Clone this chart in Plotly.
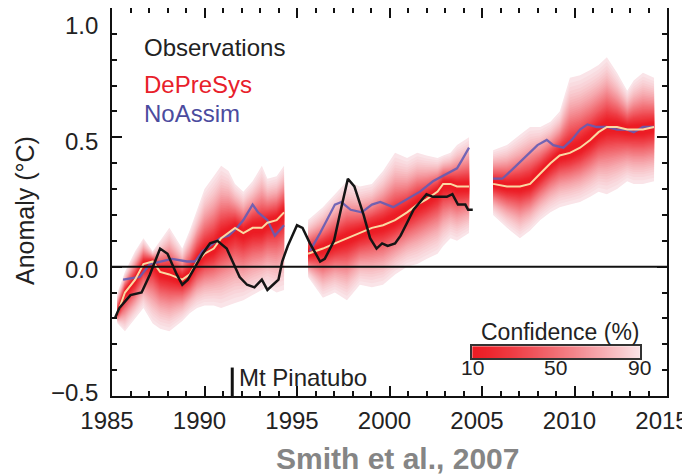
import plotly.graph_objects as go
from statistics import NormalDist

# ------------------------------------------------------------------ data
OBS_YEARS = [1985.15, 1985.4, 1986.0, 1986.6, 1987.05, 1987.6, 1988.0, 1988.5, 1988.8, 1989.1,
             1989.5, 1989.9, 1990.3, 1990.7, 1991.2, 1991.5, 1991.9, 1992.3, 1992.7, 1993.1,
             1993.4, 1993.7, 1994.0, 1994.2, 1994.5, 1995.0, 1995.3, 1995.7, 1996.25, 1996.5,
             1997.0, 1997.4, 1997.75, 1998.1, 1998.6, 1998.95, 1999.3, 1999.6, 1999.9, 2000.3,
             2000.6, 2000.95, 2001.3, 2001.65, 2002.0, 2002.35, 2002.7, 2003.1, 2003.4, 2003.7,
             2004.1, 2004.25, 2004.5]
OBS_VALUES = [-0.20, -0.16, -0.11, -0.10, -0.03, 0.07, 0.05, -0.03, -0.07, -0.05,
              0.00, 0.05, 0.09, 0.10, 0.07, 0.02, -0.04, -0.07, -0.08, -0.05,
              -0.09, -0.07, -0.05, 0.02, 0.08, 0.16, 0.15, 0.09, 0.02, 0.03,
              0.10, 0.23, 0.34, 0.31, 0.20, 0.11, 0.07, 0.09, 0.08, 0.09,
              0.12, 0.17, 0.22, 0.25, 0.28, 0.27, 0.27, 0.27, 0.28, 0.24,
              0.24, 0.22, 0.22]

# DePreSys hindcasts: ensemble mean and 90% confidence bounds
SEG1_YEARS = [1985.3, 1985.7, 1986.25, 1986.7, 1987.2, 1987.6, 1988.1, 1988.8, 1989.2, 1989.6,
              1990.0, 1990.5, 1990.9, 1991.3, 1991.65, 1992.1, 1992.6, 1993.1, 1993.4, 1993.9, 1994.3]
SEG1_MEAN = [-0.18, -0.10, -0.05, 0.01, 0.02, -0.02, -0.03, -0.05, -0.03, 0.02,
             0.05, 0.07, 0.11, 0.13, 0.15, 0.13, 0.15, 0.15, 0.17, 0.18, 0.21]
SEG1_UPPER90 = [-0.10, -0.02, 0.06, 0.11, 0.06, 0.10, 0.15, 0.07, 0.14, 0.22,
                0.30, 0.35, 0.39, 0.37, 0.32, 0.29, 0.33, 0.39, 0.34, 0.35, 0.39]
SEG1_LOWER90 = [-0.22, -0.25, -0.20, -0.16, -0.22, -0.24, -0.25, -0.21, -0.18, -0.16,
                -0.15, -0.15, -0.16, -0.15, -0.14, -0.13, -0.11, -0.09, -0.08, -0.10, -0.09]

SEG2_YEARS = [1995.6, 1996.4, 1997.05, 1997.7, 1998.4, 1999.05, 1999.65, 2000.3, 2000.95, 2001.5,
              2002.0, 2002.6, 2002.9, 2003.3, 2003.65, 2004.3]
SEG2_MEAN = [0.05, 0.07, 0.09, 0.11, 0.13, 0.15, 0.16, 0.18, 0.21, 0.24,
             0.26, 0.29, 0.32, 0.32, 0.31, 0.31]
SEG2_UPPER90 = [0.18, 0.23, 0.28, 0.33, 0.31, 0.32, 0.37, 0.44, 0.42, 0.44,
                0.43, 0.42, 0.43, 0.44, 0.47, 0.50]
SEG2_LOWER90 = [-0.04, -0.12, -0.10, -0.13, -0.07, -0.08, -0.07, -0.03, 0.00, 0.01,
                0.03, 0.05, 0.08, 0.11, 0.10, 0.13]

SEG3_YEARS = [2005.6, 2006.35, 2007.05, 2007.6, 2008.15, 2008.7, 2009.2, 2009.75, 2010.3, 2010.85,
              2011.3, 2011.75, 2012.3, 2012.85, 2013.2, 2013.7, 2014.3]
SEG3_MEAN = [0.32, 0.31, 0.31, 0.32, 0.36, 0.40, 0.43, 0.44, 0.46, 0.49,
             0.52, 0.54, 0.54, 0.53, 0.53, 0.53, 0.54]
SEG3_UPPER90 = [0.45, 0.47, 0.51, 0.54, 0.54, 0.56, 0.60, 0.73, 0.74, 0.76,
                0.78, 0.81, 0.75, 0.68, 0.72, 0.75, 0.73]
SEG3_LOWER90 = [0.20, 0.15, 0.11, 0.14, 0.18, 0.21, 0.23, 0.24, 0.25, 0.27,
                0.29, 0.28, 0.30, 0.33, 0.32, 0.32, 0.33]

# NoAssim hindcasts
NOASSIM1_YEARS = [1985.6, 1986.5, 1987.05, 1987.6, 1988.25, 1989.05, 1989.5, 1989.9, 1990.85,
                  1991.3, 1991.75, 1992.1, 1992.6, 1992.9, 1993.4, 1993.8, 1994.3]
NOASSIM1_VALUES = [-0.05, -0.04, 0.01, 0.02, 0.03, 0.02, 0.02, 0.06, 0.11,
                   0.12, 0.15, 0.18, 0.24, 0.21, 0.18, 0.12, 0.16]
NOASSIM2_YEARS = [1995.7, 1996.25, 1997.05, 1997.4, 1997.9, 1998.5, 1999.05, 1999.5, 2000.2,
                  2000.95, 2001.65, 2002.35, 2003.1, 2003.65, 2003.9, 2004.3]
NOASSIM2_VALUES = [0.06, 0.13, 0.24, 0.25, 0.22, 0.21, 0.24, 0.25, 0.23,
                   0.26, 0.29, 0.33, 0.36, 0.38, 0.41, 0.46]
NOASSIM3_YEARS = [2005.6, 2006.1, 2006.7, 2007.4, 2008.0, 2008.5, 2008.85, 2009.4, 2009.85,
                  2010.3, 2010.7, 2011.2, 2011.75, 2012.3, 2012.85, 2013.2, 2013.7, 2014.3]
NOASSIM3_VALUES = [0.34, 0.34, 0.38, 0.43, 0.47, 0.49, 0.47, 0.46, 0.49,
                   0.53, 0.55, 0.54, 0.54, 0.53, 0.53, 0.52, 0.54, 0.54]

X_TICKS = [1985, 1990, 1995, 2000, 2005, 2010, 2015]
Y_TICKS = [1.0, 0.5, 0.0, -0.5]
Y_TICK_LABELS = ["1.0", "0.5", "0.0", "\u22120.5"]
CONF_LEVELS = [10, 12.5, 15, 17.5, 20, 22.5, 25, 27.5, 30, 32.5, 35, 37.5, 40, 42.5, 45, 47.5,
               50, 52.5, 55, 57.5, 60, 62.5, 65, 67.5, 70, 72.5, 75, 77.5, 80, 82.5, 85, 87.5, 90]
CONF_TICKS = [10, 50, 90]
CONF_TICK_LABELS = ["10", "50", "90"]
PINATUBO_YEAR = 1991.5
LEGEND_LABELS = ["Observations", "DePreSys", "NoAssim"]

# ------------------------------------------------------------------ styling helpers
FONT = "Liberation Sans, Arial, sans-serif"
RED = (236, 28, 36)
LIGHT = (250, 228, 232)
GAMMA = 1.25


def conf_color(c):
    t = (c - CONF_LEVELS[0]) / (CONF_LEVELS[-1] - CONF_LEVELS[0])
    t = t ** GAMMA
    r = [round(a + (b - a) * t) for a, b in zip(RED, LIGHT)]
    return f"rgb({r[0]},{r[1]},{r[2]})"


nd = NormalDist()
z90 = nd.inv_cdf(0.5 + CONF_LEVELS[-1] / 200)

fig = go.Figure()

segments = [
    (SEG1_YEARS, SEG1_MEAN, SEG1_UPPER90, SEG1_LOWER90),
    (SEG2_YEARS, SEG2_MEAN, SEG2_UPPER90, SEG2_LOWER90),
    (SEG3_YEARS, SEG3_MEAN, SEG3_UPPER90, SEG3_LOWER90),
]

for yrs, mean, up, lo in segments:
    for c in reversed(CONF_LEVELS):
        f = nd.inv_cdf(0.5 + c / 200) / z90
        upper = [m + (u - m) * f for m, u in zip(mean, up)]
        lower = [m - (m - l) * f for m, l in zip(mean, lo)]
        fig.add_trace(go.Scatter(
            x=yrs + yrs[::-1], y=upper + lower[::-1],
            fill="toself", fillcolor=conf_color(c), mode="lines",
            line=dict(width=0, color=conf_color(c)), hoverinfo="skip",
            showlegend=False))

for yrs, vals in [(NOASSIM1_YEARS, NOASSIM1_VALUES), (NOASSIM2_YEARS, NOASSIM2_VALUES),
                  (NOASSIM3_YEARS, NOASSIM3_VALUES)]:
    fig.add_trace(go.Scatter(x=yrs, y=vals, mode="lines",
                             line=dict(color="rgba(100,92,180,0.9)", width=2.3),
                             showlegend=False))

for yrs, mean, up, lo in segments:
    fig.add_trace(go.Scatter(x=yrs, y=mean, mode="lines",
                             line=dict(color="#fbd8a2", width=2),
                             showlegend=False))

fig.add_trace(go.Scatter(x=OBS_YEARS, y=OBS_VALUES, mode="lines",
                         line=dict(color="#151515", width=2.5), showlegend=False))

# confidence colour bar
fig.add_trace(go.Heatmap(x=CONF_LEVELS, y=[0], z=[CONF_LEVELS], xaxis="x2", yaxis="y2",
                         colorscale=[[i / (len(CONF_LEVELS) - 1), conf_color(c)]
                                     for i, c in enumerate(CONF_LEVELS)],
                         zsmooth="best", showscale=False, hoverinfo="skip"))

axis_common = dict(showline=True, linewidth=2, linecolor="#111", mirror="ticks",
                   ticks="inside", ticklen=10, tickwidth=2, tickcolor="#111",
                   showgrid=False, zeroline=False, automargin=False)

# The page body has an 8 px default margin, so the figure margins are offset
# to put the plot area at x 112-667, y 8-396 of the window.
fig.update_layout(
    width=690, height=475,
    margin=dict(l=104, r=31, t=0, b=87, autoexpand=False),
    plot_bgcolor="white", paper_bgcolor="white",
    showlegend=False,
    font=dict(family=FONT, color="#222"),
    xaxis=dict(range=[1985, 2015], tickvals=X_TICKS, tickfont=dict(size=24, color="#222"),
               minor=dict(dtick=1, ticks="inside", ticklen=5, tickwidth=1.5, tickcolor="#111"),
               ticklabelshift=-5, ticklabelstandoff=2, **axis_common),
    yaxis=dict(range=[-0.5, 1.0], tickvals=Y_TICKS, showticklabels=False,
               minor=dict(dtick=0.1, ticks="inside", ticklen=5, tickwidth=1.5, tickcolor="#111"),
               **axis_common),
    xaxis2=dict(domain=[0.649, 0.951], anchor="y2", range=[CONF_LEVELS[0], CONF_LEVELS[-1]],
                showticklabels=False, ticks="", showline=True, mirror=True, linewidth=1.5,
                linecolor="#333", showgrid=False, zeroline=False, automargin=False),
    yaxis2=dict(domain=[0.0977, 0.1285], anchor="x2", range=[-0.5, 0.5], showticklabels=False,
                ticks="", showline=True, mirror=True, linewidth=1.5, linecolor="#333",
                showgrid=False, zeroline=False, automargin=False),
)

# zero line and Pinatubo marker
fig.add_shape(type="line", xref="paper", yref="y", x0=0, x1=1, y0=0, y1=0,
              line=dict(color="#111", width=2), layer="above")
fig.add_shape(type="line", xref="x", yref="y", x0=PINATUBO_YEAR, x1=PINATUBO_YEAR,
              y0=-0.5, y1=-0.39, line=dict(color="#111", width=3), layer="above")

# y tick labels (placed as in the original figure)
y_shifts = [-17, -4, -3, 4]
for v, lab, s in zip(Y_TICKS, Y_TICK_LABELS, y_shifts):
    fig.add_annotation(text=lab, xref="paper", yref="y", x=0, y=v, xanchor="right",
                       yanchor="middle", xshift=-12, yshift=s, showarrow=False,
                       font=dict(size=24, color="#222", family=FONT))

# colour bar labels
for v, lab in zip(CONF_TICKS, CONF_TICK_LABELS):
    fig.add_annotation(text=lab, xref="x2", yref="paper", x=v, y=0.0722, xanchor="center",
                       yanchor="middle", showarrow=False,
                       font=dict(size=21, color="#222", family=FONT))

fig.add_annotation(text="Anomaly (\u00b0C)", xref="paper", yref="paper", x=-0.157, y=0.479,
                   textangle=-90, showarrow=False, xanchor="center", yanchor="middle",
                   font=dict(size=25, color="#222", family=FONT))

legend_colors = ["#222222", "#e8202a", "#4b4b9e"]
legend_y = [0.899, 0.804, 0.727]
for lab, col, yy in zip(LEGEND_LABELS, legend_colors, legend_y):
    fig.add_annotation(text=lab, xref="paper", yref="paper", x=0.054, y=yy, xanchor="left",
                       yanchor="middle", showarrow=False,
                       font=dict(size=24, color=col, family=FONT))

fig.add_annotation(text="Mt Pinatubo", xref="x", yref="y", x=PINATUBO_YEAR, y=-0.43,
                   xanchor="left", yanchor="middle", xshift=5, showarrow=False,
                   font=dict(size=24, color="#222", family=FONT))

fig.add_annotation(text="Confidence (%)", xref="paper", yref="paper", x=0.809, y=0.1645,
                   xanchor="center", yanchor="middle", showarrow=False,
                   font=dict(size=23, color="#222", family=FONT))

fig.add_annotation(text="<b>Smith et al., 2007</b>", xref="paper", yref="paper", x=0.515, y=-0.16,
                   xanchor="center", yanchor="middle", showarrow=False,
                   font=dict(size=30, color="#858585", family=FONT))

fig.write_html("out.html")
